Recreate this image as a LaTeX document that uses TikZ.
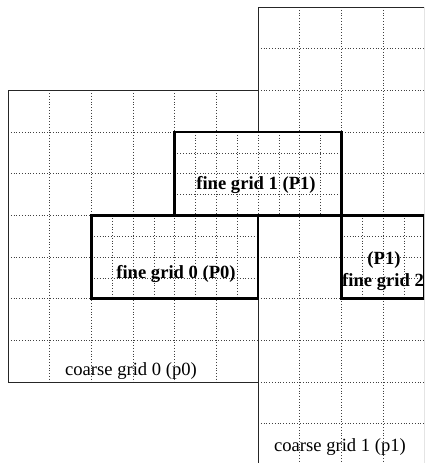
\documentclass[tikz,border=0pt]{standalone}
\usepackage{fontspec}
\setmainfont{Liberation Serif}
\tikzset{
  gridline/.style={draw=black!75, line width=0.6pt, dash pattern=on 0.8pt off 2pt},
  coarsebox/.style={draw=black!85, line width=0.9pt},
  finebox/.style={draw=black, line width=2.8pt},
  finelabel/.style={anchor=base, inner sep=0pt, font=\fontsize{18.6}{22}\selectfont\bfseries},
  coarselabel/.style={anchor=base, inner sep=0pt, font=\fontsize{18.6}{22}\selectfont}
}
\begin{document}
\begin{tikzpicture}[x=1pt,y=-1pt]
\useasboundingbox (0,0) rectangle (424,463);
\clip (0,0) rectangle (424,463);
\fill[white] (0,0) rectangle (424,463);
\begin{scope}[shift={(8,7)}, x=41.67pt, y=-41.67pt]
  % coarse grid 0 dotted lines
  \foreach \i in {1,...,5} \draw[gridline] (\i,2) -- (\i,9);
  \foreach \j in {3,...,8} \draw[gridline] (0,\j) -- (6,\j);
  % coarse grid 1 dotted lines
  \foreach \i in {7,8,9} \draw[gridline] (\i,0) -- (\i,11);
  \foreach \j in {1,...,10} \draw[gridline] (6,\j) -- (10,\j);
  % coarse boundaries
  \draw[coarsebox] (0,2) rectangle (6,9);
  \draw[coarsebox] (6,0) rectangle (10,11);
  % fine grid 1
  \fill[white] (4,3) rectangle (8,5);
  \foreach \i in {4.5,5,...,7.5} \draw[gridline] (\i,3) -- (\i,5);
  \foreach \j in {3.5,4,4.5} \draw[gridline] (4,\j) -- (8,\j);
  % fine grid 0
  \fill[white] (2,5) rectangle (6,7);
  \foreach \i in {2.5,3,...,5.5} \draw[gridline] (\i,5) -- (\i,7);
  \foreach \j in {5.5,6,6.5} \draw[gridline] (2,\j) -- (6,\j);
  % fine grid 2
  \fill[white] (8,5) rectangle (10,7);
  \foreach \i in {8.5,9,9.5} \draw[gridline] (\i,5) -- (\i,7);
  \foreach \j in {5.5,6,6.5} \draw[gridline] (8,\j) -- (10,\j);
  % fine boundaries
  \draw[finebox] (4,3) rectangle (8,5);
  \draw[finebox] (2,5) rectangle (6,7);
  \draw[finebox] (8,5) rectangle (10,7);
\end{scope}
\node[finelabel] (f1) at (256,189) {fine grid 1 (P1)};
\node[finelabel] (f0) at (176,278) {fine grid 0 (P0)};
\node[finelabel] (f2a) at (384,264) {(P1)};
\node[finelabel] (f2b) at (383,286) {fine grid 2};
\node[coarselabel] (c0) at (131,375) {coarse grid 0 (p0)};
\node[coarselabel] (c1) at (340,451.5) {coarse grid 1 (p1)};
\end{tikzpicture}
\end{document}
